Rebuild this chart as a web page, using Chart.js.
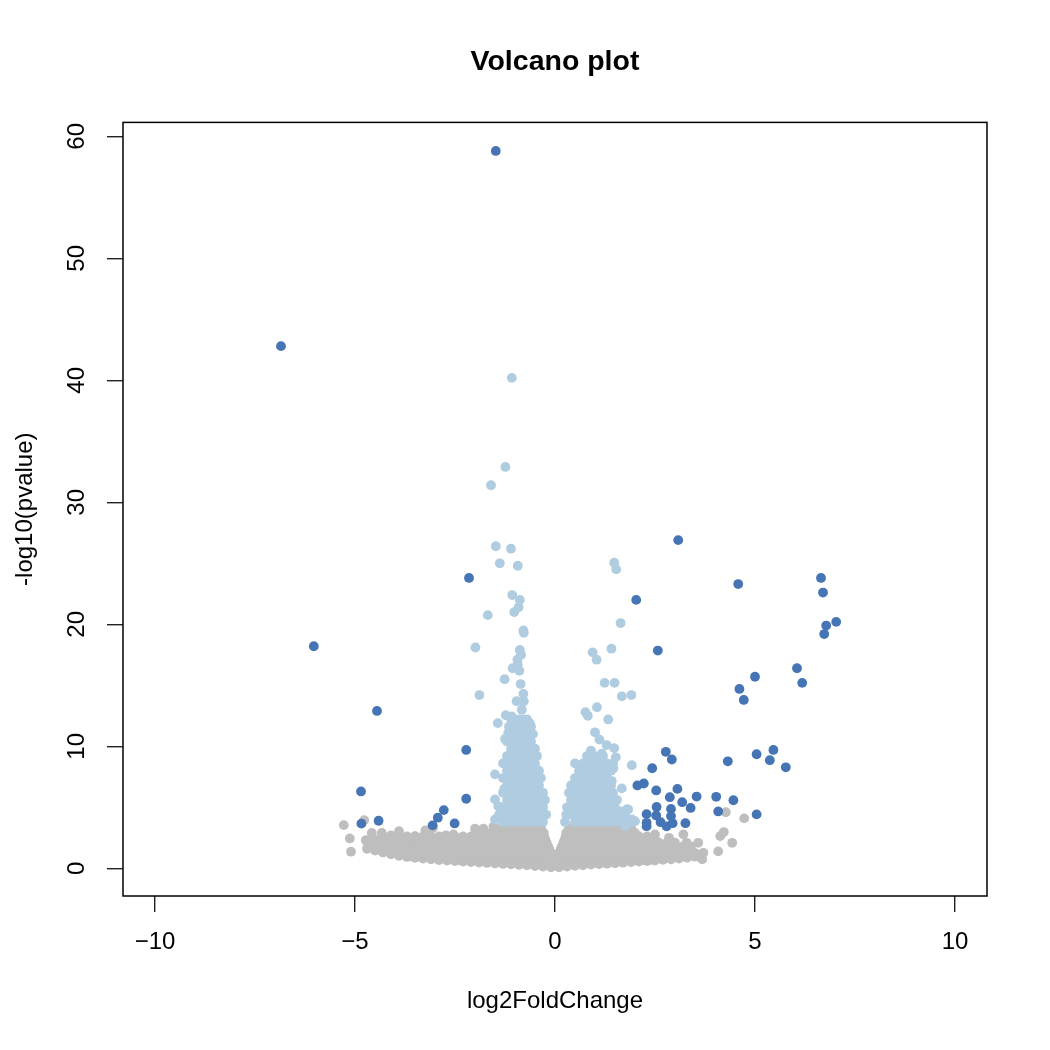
<!DOCTYPE html>
<html><head><meta charset="utf-8">
<script src="https://cdn.jsdelivr.net/npm/chart.js@4.4.1/dist/chart.umd.min.js"></script>
<style>html,body{margin:0;padding:0;background:#fff}canvas{display:block}</style>
</head><body>
<canvas id="c" width="1050" height="1050" style="width:1050px;height:1050px"></canvas>
<script>
// ---- tick labels ----
const xTicks = [-10, -5, 0, 5, 10];
const yTicks = [0, 10, 20, 30, 40, 50, 60];

// ---- significant & large fold change (dark blue) ----
const darkPts = [
  [-1.48,58.8],[-6.85,42.8],[-6.03,18.2],[-4.45,12.9],[-2.15,23.8],[-2.22,9.7],[-4.85,6.3],[-2.22,5.7],
  [-4.84,3.66],[-4.41,3.9],[-2.78,4.77],[-2.93,4.15],[-3.06,3.52],[-2.51,3.68],
  [3.08,26.9],[2.03,22.0],[2.57,17.85],[4.58,23.3],[6.65,23.8],[6.7,22.6],[7.03,20.2],[6.78,19.9],[6.73,19.2],
  [6.05,16.4],[6.18,15.2],[5.0,15.7],[4.61,14.7],[4.72,13.8],[2.77,9.55],[2.92,8.92],[2.43,8.2],[4.32,8.77],
  [5.04,9.35],[5.46,9.7],[5.37,8.86],[5.77,8.28],[2.06,6.79],[2.22,6.95],[2.53,6.38],[3.06,6.51],[2.87,5.83],
  [3.54,5.88],[4.03,5.86],[4.46,5.58],[3.18,5.42],[3.39,4.95],[2.54,5.03],[2.9,4.87],[2.29,4.44],[2.53,4.33],
  [2.9,4.28],[4.08,4.66],[5.04,4.42],[2.29,3.73],[2.64,3.78],[2.79,3.44],[2.94,3.7],[3.26,3.7],[2.29,3.45]
];

// ---- significant (light blue): scattered points ----
const lightLeftPts = [
  [-1.08,40.2],[-1.24,32.9],[-1.6,31.4],[-1.48,26.4],[-1.1,26.2],[-1.38,25.0],[-0.93,24.8],[-1.07,22.4],
  [-0.88,22.0],[-0.91,21.4],[-1.02,21.0],[-1.68,20.75],[-0.79,19.5],[-0.78,19.3],[-1.99,18.1],[-0.88,17.9],
  [-0.85,17.5],[-0.94,17.1],[-0.93,16.7],[-1.06,16.4],[-0.89,16.2],[-1.26,15.5],[-0.86,15.1],[-1.89,14.2],
  [-0.79,14.3],[-0.96,13.7],[-0.78,13.7],[-0.83,13.0],[-1.23,12.55],[-1.08,12.45],[-1.43,11.9],[-1.04,11.9],
  [-0.63,11.9],[-0.79,12.2],[-1.17,11.1],[-1.25,10.6],[-1.13,9.3],[-1.21,8.5],[-1.5,7.7],[-1.27,6.5],
  [-1.5,5.65],[-1.42,5.1],[-1.33,4.3],[-1.5,4.0]
];
const lightRightPts = [
  [1.48,25.05],[1.53,24.5],[1.64,20.1],[0.94,17.7],[1.41,18.0],[1.04,17.1],[1.24,15.2],[1.49,15.2],
  [1.67,14.1],[1.91,14.2],[1.05,13.2],[0.76,12.8],[0.82,12.5],[1.33,12.2],[1.0,11.15],[1.11,10.55],
  [1.29,10.1],[1.48,9.85],[0.9,9.65],[1.17,9.4],[1.52,9.1],[1.92,8.45],[1.46,8.2],[1.21,7.95],[1.42,7.15],
  [1.67,6.55],[1.38,5.8],[1.79,4.83],[1.71,4.3],[1.92,4.0],[1.75,3.46],[2.0,3.86],[1.63,4.67],[1.83,4.83]
];
// ---- light blue dense columns: one array of x positions per -log10(p) level ----
const lightRowLevels = [12.2, 11.6, 11.0, 10.4, 9.8, 9.2, 8.6, 8.0, 7.4, 6.8, 6.2, 5.6, 5.0, 4.4, 3.8];
const lightRowX = [
  [-1.1,-0.9,-0.7],
  [-1.15,-1.0,-0.8,-0.6],
  [-1.1,-0.9,-0.7,-0.55],
  [-1.2,-1.0,-0.8,-0.6],
  [-1.1,-0.9,-0.7,-0.5],
  [-1.2,-1.0,-0.8,-0.6,-0.45, 0.8,1.0,1.2],
  [-1.3,-1.1,-0.9,-0.7,-0.5, 0.5,0.7,0.9,1.1,1.3,1.45],
  [-1.2,-1.0,-0.8,-0.6,-0.4, 0.6,0.8,1.0,1.2,1.4],
  [-1.3,-1.1,-0.9,-0.7,-0.5,-0.35, 0.5,0.7,0.9,1.1,1.3],
  [-1.2,-1.0,-0.8,-0.6,-0.4, 0.4,0.6,0.8,1.0,1.2,1.4],
  [-1.3,-1.1,-0.9,-0.7,-0.5,-0.3, 0.35,0.5,0.7,0.9,1.1,1.3,1.45],
  [-1.2,-1.0,-0.8,-0.6,-0.4,-0.25, 0.4,0.6,0.8,1.0,1.2,1.4,1.55],
  [-1.3,-1.1,-0.9,-0.7,-0.5,-0.3, 0.3,0.5,0.7,0.9,1.1,1.3,1.5],
  [-1.4,-1.2,-1.0,-0.8,-0.6,-0.4,-0.22, 0.28,0.4,0.6,0.8,1.0,1.2,1.4,1.6,1.75],
  [-1.3,-1.1,-0.9,-0.7,-0.5,-0.3, 0.25,0.5,0.7,0.9,1.1,1.3,1.5,1.7,1.9]
];

// ---- not significant (gray) ----
const grayBottomPts = [
  [-4.7,1.6],[-4.5,1.45],[-4.3,1.3],[-4.1,1.15],[-3.9,1.02],[-3.7,0.93],[-3.5,0.86],[-3.3,0.8],[-3.1,0.74],
  [-2.9,0.68],[-2.7,0.63],[-2.5,0.59],[-2.3,0.55],[-2.1,0.51],[-1.9,0.47],[-1.7,0.44],[-1.5,0.4],[-1.3,0.36],
  [-1.1,0.32],[-0.9,0.28],[-0.7,0.24],[-0.5,0.19],[-0.3,0.14],[-0.1,0.08],[0.1,0.08],[0.3,0.14],[0.5,0.2],
  [0.7,0.25],[0.9,0.3],[1.1,0.34],[1.3,0.38],[1.5,0.42],[1.7,0.46],[1.9,0.51],[2.1,0.55],[2.3,0.6],[2.5,0.64],
  [2.7,0.69],[2.9,0.74],[3.1,0.8],[3.3,0.87],[3.5,0.95],[3.62,1.02]
];
const grayScatterPts = [
  [-5.28,3.54],[-5.13,2.45],[-5.1,1.36],[-4.77,3.94],[-4.58,2.9],[-4.73,2.3],[-4.67,2.0],[-4.33,2.9],
  [-3.9,3.05],[-3.5,2.64],[-3.24,3.1],[-2.73,2.7],[-2.54,2.78],[-2.0,3.25],[-1.79,3.25],[-1.54,3.4],
  [-4.1,2.7],[-3.05,3.3],
  [4.27,4.6],[4.73,4.09],[4.22,2.97],[4.13,2.64],[4.43,2.09],[4.08,1.39],[3.68,0.74],[3.71,1.27],[3.58,2.09],
  [3.29,2.09],[3.21,2.78],[2.85,2.5],[2.5,2.78],[1.79,3.05]
];
const grayRowLevels = [0.7, 1.0, 1.25, 1.55, 1.8, 2.1, 2.35, 2.62, 2.9, 3.3];
const grayRowX = [
  [-2.4,-2.2,-2.0,-1.8,-1.6,-1.4,-1.2,-1.0,-0.8,-0.6,-0.4,-0.2,0,0.2,0.4,0.6,0.8,1.0,1.2,1.4,1.6,1.8,2.0,2.2,2.4],
  [-3.6,-3.4,-3.2,-3.0,-2.8,-2.6,-2.4,-2.2,-2.0,-1.8,-1.6,-1.4,-1.2,-1.0,-0.8,-0.6,-0.4,-0.2,0,
   0.2,0.4,0.6,0.8,1.0,1.2,1.4,1.6,1.8,2.0,2.2,2.4,2.6,2.8,3.0,3.2],
  [-3.9,-3.7,-3.5,-3.3,-3.1,-2.9,-2.7,-2.5,-2.3,-2.1,-1.9,-1.7,-1.5,-1.3,-1.1,-0.9,-0.7,-0.5,-0.3,-0.1,
   0.1,0.3,0.5,0.7,0.9,1.1,1.3,1.5,1.7,1.9,2.1,2.3,2.5,2.7,2.9,3.1,3.3,3.5],
  [-4.3,-4.1,-3.9,-3.7,-3.5,-3.3,-3.1,-2.9,-2.7,-2.5,-2.3,-2.1,-1.9,-1.7,-1.5,-1.3,-1.1,-0.9,-0.7,-0.5,-0.3,-0.14,
   0.14,0.3,0.5,0.7,0.9,1.1,1.3,1.5,1.7,1.9,2.1,2.3,2.5,2.7,2.9,3.1,3.3],
  [-4.6,-4.4,-4.2,-4.0,-3.8,-3.6,-3.4,-3.2,-3.0,-2.8,-2.6,-2.4,-2.2,-2.0,-1.8,-1.6,-1.4,-1.2,-1.0,-0.8,-0.6,-0.4,-0.17,
   0.17,0.4,0.6,0.8,1.0,1.2,1.4,1.6,1.8,2.0,2.2,2.4,2.6,2.8,3.0,3.2,3.4],
  [-4.6,-4.4,-4.2,-4.0,-3.8,-3.6,-3.4,-3.2,-3.0,-2.8,-2.6,-2.4,-2.2,-2.0,-1.8,-1.6,-1.4,-1.2,-1.0,-0.8,-0.6,-0.4,-0.21,
   0.21,0.4,0.6,0.8,1.0,1.2,1.4,1.6,1.8,2.0,2.2,2.4,2.6,2.8,3.0],
  [-4.5,-4.3,-4.1,-3.9,-3.7,-3.5,-3.3,-3.1,-2.9,-2.7,-2.5,-2.3,-2.1,-1.9,-1.7,-1.5,-1.3,-1.1,-0.9,-0.7,-0.5,-0.24,
   0.24,0.5,0.7,0.9,1.1,1.3,1.5,1.7,1.9,2.1,2.3,2.5],
  [-4.3,-4.1,-3.9,-3.7,-3.5,-3.3,-3.1,-2.9,-2.7,-2.5,-2.3,-2.1,-1.9,-1.7,-1.5,-1.3,-1.1,-0.9,-0.7,-0.5,-0.27,
   0.27,0.5,0.7,0.9,1.1,1.3,1.5,1.7,1.9,2.1,2.3],
  [-1.8,-1.6,-1.4,-1.2,-1.0,-0.8,-0.6,-0.42,-0.28,0.28,0.42,0.6,0.8,1.0,1.2,1.4,1.6,1.8,2.0],
  [-1.5,-1.3,-1.1,-0.9,-0.7,-0.5,-0.35,0.35,0.5,0.7,0.9,1.1,1.3,1.5,1.7,1.9]
];

// ---- assemble data for the library ----
const toXY = a => a.map(p => ({x: p[0], y: p[1]}));
const rowsToXY = (levels, rows) => levels.flatMap((y, i) => rows[i].map(x => ({x, y})));
const grayData = toXY(grayBottomPts).concat(rowsToXY(grayRowLevels, grayRowX), toXY(grayScatterPts));
const lightData = rowsToXY(lightRowLevels, lightRowX).concat(toXY(lightLeftPts), toXY(lightRightPts));
const darkData = toXY(darkPts);

const FONT = '"Liberation Sans", Arial, Helvetica, sans-serif';
Chart.defaults.font.family = FONT;
Chart.defaults.color = '#000';

const framePlugin = {
  id: 'frame',
  afterDraw(chart) {
    const {ctx, chartArea: a} = chart;
    ctx.save();
    ctx.strokeStyle = '#000';
    ctx.lineWidth = 1.5;
    ctx.strokeRect(a.left, a.top, a.right - a.left, a.bottom - a.top);
    ctx.restore();
  }
};

const R = 4.9;
const tickGrid = {display: true, drawOnChartArea: false, drawTicks: true, tickLength: 16, color: '#222', lineWidth: 1.4};
const minus = v => String(v).replace('-', '\u2212');

new Chart(document.getElementById('c'), {
  type: 'scatter',
  data: {
    datasets: [
      {data: darkData, pointRadius: R, pointBackgroundColor: '#4575B4', pointBorderWidth: 0, pointHoverRadius: R},
      {data: lightData, pointRadius: R, pointBackgroundColor: '#B0CCE1', pointBorderWidth: 0, pointHoverRadius: R},
      {data: grayData, pointRadius: R, pointBackgroundColor: '#BEBEBE', pointBorderWidth: 0, pointHoverRadius: R}
    ]
  },
  options: {
    responsive: false,
    devicePixelRatio: 1,
    animation: false,
    events: [],
    layout: {padding: {left: 0, right: 63, top: 0, bottom: 0}},
    plugins: {
      legend: {display: false},
      tooltip: {enabled: false},
      title: {
        display: true, text: 'Volcano plot', fullSize: false, color: '#000',
        font: {size: 28.5, weight: 'bold', lineHeight: 1.2},
        padding: {top: 44.6, bottom: 43.6}
      }
    },
    scales: {
      x: {
        type: 'linear', min: -10.8, max: 10.8,
        afterBuildTicks: s => { s.ticks = xTicks.map(v => ({value: v})); },
        afterFit: s => { s.height = 154; },
        ticks: {font: {size: 24}, color: '#000', padding: 16, autoSkip: false, maxRotation: 0, callback: minus},
        grid: tickGrid,
        border: {display: false},
        title: {display: true, text: 'log2FoldChange', color: '#000', font: {size: 24, lineHeight: 1.2}, padding: {top: 0, bottom: 34}}
      },
      y: {
        type: 'linear', min: -2.27, max: 61.14,
        afterBuildTicks: s => { s.ticks = yTicks.map(v => ({value: v})); },
        afterFit: s => { s.width = 123; },
        ticks: {font: {size: 24}, color: '#000', padding: 16, autoSkip: false, minRotation: 90, maxRotation: 90, crossAlign: 'center', callback: minus},
        grid: tickGrid,
        border: {display: false},
        title: {display: true, text: '-log10(pvalue)', color: '#000', font: {size: 24, lineHeight: 1.2}, padding: {top: 11, bottom: 0}}
      }
    }
  },
  plugins: [framePlugin]
});
</script>
</body></html>
